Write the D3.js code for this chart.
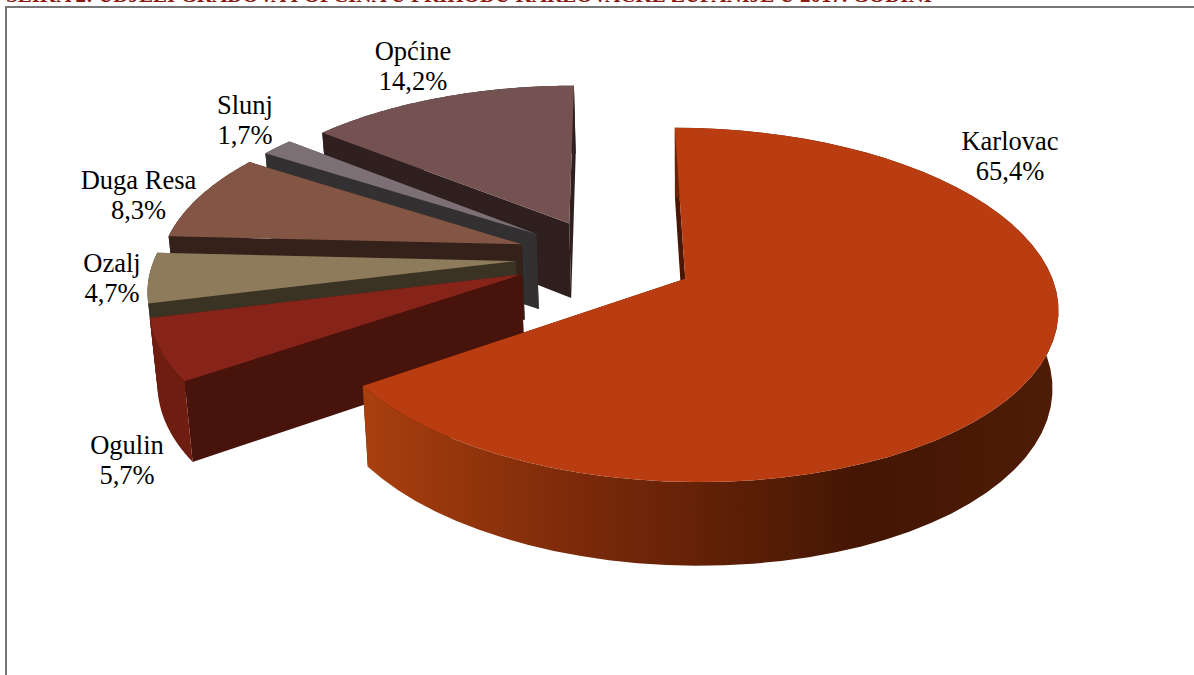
<!DOCTYPE html>
<html>
<head>
<meta charset="utf-8">
<script src="https://cdnjs.cloudflare.com/ajax/libs/d3/7.8.5/d3.min.js"></script>
<style>
  html, body { margin: 0; padding: 0; background: #fff; overflow: hidden; }
  svg { display: block; }
  text { font-family: "Liberation Serif", serif; }
</style>
</head>
<body>
<svg id="svg1" width="1194" height="675"></svg>
<script>
var categories = ["Karlovac", "Ogulin", "Ozalj", "Duga Resa", "Slunj", "Općine"];
var shares = [65.4, 5.7, 4.7, 8.3, 1.7, 14.2];
var shareLabels = ["65,4%", "5,7%", "4,7%", "8,3%", "1,7%", "14,2%"];
var topColors = ["#b93d10", "#87241a", "#8d7b5b", "#835544", "#7d7074", "#745251"];
var rimColors = ["url(#rimFill)", "#6f1d10", "#3a3223", "#33211a", "#333031", "#2f1f1f"];
var wallColors = ["#4a1606", "#47130b", "#3a3223", "#33211a", "#333031", "#2f1f1f"];
var titleText = "SLIKA 2: UDJELI GRADOVA I OPĆINA U PRIHODU KARLOVAČKE ŽUPANIJE U 2017. GODINI";

// where the two text lines of each label sit
var labelSpots = [[1010, 150], [127, 454], [112, 272], [138.5, 189], [245, 114], [413, 60]];

var svg = d3.select("svg#svg1");

// fake camera for the 3d look
var camera = {
  x: 603, y: 261,
  radius: 361, squash: 167.5,
  perspective: 0.145,
  depth: 76, depthGrow: 0.09,
  converge: 0.016, vanishX: 683
};
var explode = 0.25;
// small pixel corrections per slice, the excel explosion is not quite radial
var nudges = [[1, -2], [2, -4], [3, -4], [4, -4], [5, -3], [4, -1]];

var project = function(u, v) {
  var f = 1 / (1 - camera.perspective * v);
  return [camera.x + camera.radius * u * f, camera.y + camera.squash * v * f, v];
};

var dropDown = function(p) {
  return [
    p[0] + (camera.vanishX - p[0]) * camera.converge,
    p[1] + camera.depth * (1 + camera.depthGrow * p[2])
  ];
};

var pie = d3.pie().sort(null);

var arcs = pie(shares);

var line = d3.line();

var grad = svg.append("defs").append("linearGradient")
  .attr("id", "rimFill")
  .attr("gradientUnits", "userSpaceOnUse")
  .attr("x1", 365).attr("x2", 1057)
  .attr("y1", 0).attr("y2", 0);
grad.append("stop").attr("offset", "0").attr("stop-color", "#a83f0e");
grad.append("stop").attr("offset", "0.3").attr("stop-color", "#7c2a0a");
grad.append("stop").attr("offset", "0.72").attr("stop-color", "#431603");
grad.append("stop").attr("offset", "1").attr("stop-color", "#4f1c06");

// frame and the cut off caption on top
svg.append("rect")
  .attr("x", 6).attr("y", 7)
  .attr("width", 1200).attr("height", 680)
  .attr("fill", "#fff")
  .attr("stroke", "#777")
  .attr("stroke-width", 2);

svg.append("text")
  .attr("x", 6).attr("y", 2)
  .attr("font-size", 21)
  .attr("font-weight", "bold")
  .attr("fill", "#8b1a10")
  .text(titleText);

var plot = svg.append("g").attr("id", "plot");

// back slices first, Karlovac goes on top of them
d3.range(arcs.length - 1, -1, -1).forEach(function(i) {
  var a = arcs[i];
  var mid = (a.startAngle + a.endAngle) / 2;
  var ox = explode * Math.sin(mid);
  var oy = -explode * Math.cos(mid);

  var slice = plot.append("g")
    .attr("transform", "translate(" + nudges[i][0] + "," + nudges[i][1] + ")");

  var steps = d3.range(0, 61).map(function(s) {
    var t = a.startAngle + (a.endAngle - a.startAngle) * s / 60;
    return project(ox + Math.sin(t), oy - Math.cos(t));
  });
  var apex = project(ox, oy);
  var first = steps[0];
  var last = steps[steps.length - 1];

  // radial walls
  slice.append("path")
    .attr("d", line([apex, first, dropDown(first), dropDown(apex)]) + "Z")
    .attr("fill", wallColors[i]);
  slice.append("path")
    .attr("d", line([apex, last, dropDown(last), dropDown(apex)]) + "Z")
    .attr("fill", wallColors[i]);

  // outer rim
  var rim = steps.map(function(p) { return [p[0], p[1]]; })
    .concat(steps.slice().reverse().map(dropDown));
  slice.append("path")
    .attr("d", line(rim) + "Z")
    .attr("fill", rimColors[i]);

  // top face
  var face = [apex].concat(steps).map(function(p) { return [p[0], p[1]]; });
  slice.append("path")
    .attr("d", line(face) + "Z")
    .attr("fill", topColors[i]);
});

var labels = svg.append("g").attr("id", "labels")
  .selectAll("text")
  .data(categories)
  .enter()
  .append("text")
  .attr("text-anchor", "middle")
  .attr("font-size", 26.5)
  .attr("fill", "#000");

labels.append("tspan")
  .attr("x", function(d, i) { return labelSpots[i][0]; })
  .attr("y", function(d, i) { return labelSpots[i][1]; })
  .text(function(d) { return d; });

labels.append("tspan")
  .attr("x", function(d, i) { return labelSpots[i][0]; })
  .attr("y", function(d, i) { return labelSpots[i][1] + 30; })
  .text(function(d, i) { return shareLabels[i]; });
</script>
</body>
</html>
